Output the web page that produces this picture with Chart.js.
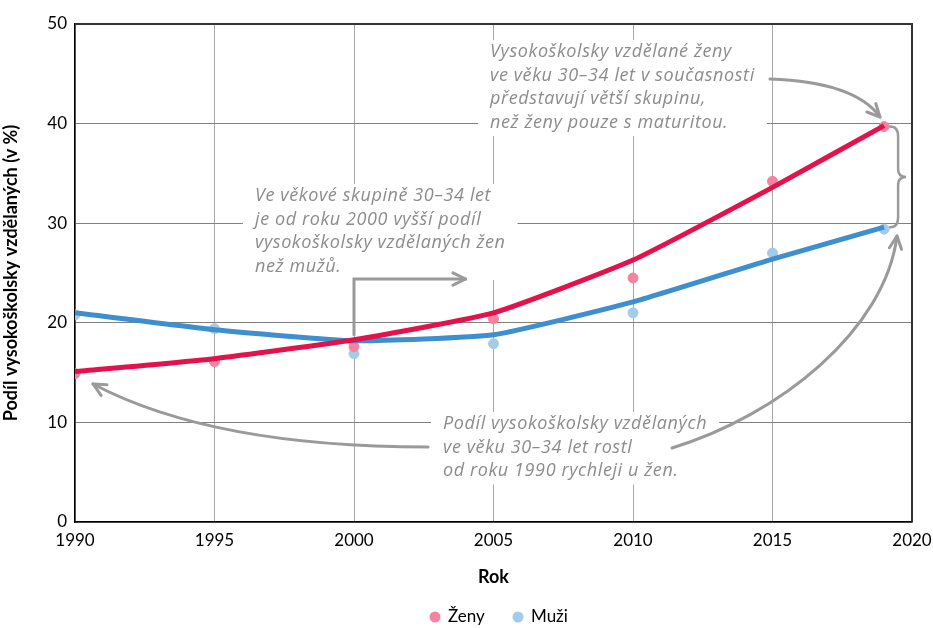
<!DOCTYPE html>
<html>
<head>
<meta charset="utf-8">
<script src="https://cdn.jsdelivr.net/npm/chart.js@4/dist/chart.umd.min.js"></script>
<style>
body{margin:0;background:#fff}
#wrap{width:933px;height:628px}
</style>
</head>
<body>
<div id="wrap"><canvas id="myChart" width="933" height="628"></canvas></div>
<script>
// data
let years=[1990,1995,2000,2005,2010,2015,2019]
let zeny=[14.9,16.1,17.6,20.4,24.5,34.2,39.7]
let muzi=[20.8,19.4,16.9,17.9,21.0,27.0,29.4]
let zenyTrend=[15.1,16.4,18.3,21.0,26.3,33.6,39.8]
let muziTrend=[21.0,19.3,18.2,18.8,22.1,26.4,29.6]
let xTicks=[1990,1995,2000,2005,2010,2015,2020]
let yTicks=[0,10,20,30,40,50]

function pts(arr){return years.map((y,i)=>({x:y,y:arr[i]}))}

let handFont='italic 18px "Open Sans"'
let grey='#8c8c8c'

function arrowHead(c,x,y,ang){
  c.beginPath()
  c.moveTo(x,y)
  c.lineTo(x-14*Math.cos(ang-0.45),y-14*Math.sin(ang-0.45))
  c.moveTo(x,y)
  c.lineTo(x-14*Math.cos(ang+0.45),y-14*Math.sin(ang+0.45))
  c.stroke()
}

let notes={
  id:'notes',
  beforeDatasetsDraw(chart){
    let c=chart.ctx
    let boxes=[
      {x:255,y:196,lines:['Ve věkové skupině 30–34 let','je od roku 2000 vyšší podíl','vysokoškolsky vzdělaných žen','než mužů.']},
      {x:490,y:52,lines:['Vysokoškolsky vzdělané ženy','ve věku 30–34 let v současnosti','představují větší skupinu,','než ženy pouze s maturitou.']},
      {x:443,y:424,lines:['Podíl vysokoškolsky vzdělaných','ve věku 30–34 let rostl','od roku 1990 rychleji u žen.']}
    ]
    c.save()
    c.font=handFont
    c.letterSpacing='0.6px'
    c.textBaseline='middle'
    boxes.forEach(b=>{
      let w=Math.max(...b.lines.map(l=>c.measureText(l).width))
      c.fillStyle='#fff'
      c.fillRect(b.x-12,b.y-12,w+24,b.lines.length*23.5+2)
      c.fillStyle=grey
      b.lines.forEach((l,i)=>c.fillText(l,b.x,b.y+i*23.5))
    })
    c.restore()
  },
  afterDatasetsDraw(chart){
    let c=chart.ctx, xs=chart.scales.x, ys=chart.scales.y
    let X=v=>xs.getPixelForValue(v), Y=v=>ys.getPixelForValue(v)
    c.save()
    c.strokeStyle='#9a9a9a'
    c.lineWidth=3
    c.lineCap='round'
    // top arrow to women 2019
    c.beginPath()
    c.moveTo(770,79)
    c.quadraticCurveTo(855,82,880,117)
    c.stroke()
    arrowHead(c,880,117,Math.atan2(117-100,880-864))
    // step arrow 2000
    c.beginPath()
    c.moveTo(X(2000),Y(18.8))
    c.lineTo(X(2000),Y(24.4))
    c.lineTo(X(2004),Y(24.4))
    c.stroke()
    arrowHead(c,X(2004),Y(24.4),0)
    // lower-left arrow to 1990
    c.beginPath()
    c.moveTo(428,447)
    c.bezierCurveTo(300,447,180,430,93,384)
    c.stroke()
    arrowHead(c,93,384,Math.atan2(384-395,93-113))
    // lower-right arrow up to men 2019
    c.beginPath()
    c.moveTo(672,448)
    c.bezierCurveTo(780,415,885,330,897,236)
    c.stroke()
    arrowHead(c,897,236,Math.atan2(236-252,897-895))
    // brace
    let bx=X(2019)+10, t=Y(39.7), b=Y(29.6), m=(t+b)/2
    c.lineWidth=2.5
    c.beginPath()
    c.moveTo(bx-4,t)
    c.quadraticCurveTo(bx+4,t,bx+4,t+10)
    c.lineTo(bx+4,m-8)
    c.quadraticCurveTo(bx+4,m,bx+12,m)
    c.quadraticCurveTo(bx+4,m,bx+4,m+8)
    c.lineTo(bx+4,b-10)
    c.quadraticCurveTo(bx+4,b,bx-4,b)
    c.stroke()
    c.restore()
  }
}

// legend drawn by hand so the spacing matches
let bottomLegend={
  id:'bottomLegend',
  afterDraw(chart){
    let c=chart.ctx
    let items=chart.data.datasets.filter(d=>d.label=='Ženy'||d.label=='Muži')
    let xs=[435,518]
    c.save()
    c.font='17px Lato'
    c.textBaseline='middle'
    items.forEach((d,i)=>{
      c.fillStyle=d.backgroundColor
      c.beginPath()
      c.arc(xs[i],617,5.5,0,Math.PI*2)
      c.fill()
      c.fillStyle='#000'
      c.fillText(d.label,xs[i]+13,617)
    })
    c.restore()
  }
}

let myChart=document.getElementById('myChart').getContext('2d')
let chart=new Chart(myChart,{
  type:'scatter',
  data:{
    datasets:[
      {label:'trendZ',type:'line',data:pts(zenyTrend),borderColor:'#e3124b',borderWidth:5,pointRadius:0,tension:0.15,order:1},
      {label:'trendM',type:'line',data:pts(muziTrend),borderColor:'#3e8fcd',borderWidth:5,pointRadius:0,tension:0.15,order:1},
      {label:'Ženy',data:pts(zeny),backgroundColor:'#f284a2',borderColor:'#f284a2',pointRadius:5,pointHoverRadius:5,order:2},
      {label:'Muži',data:pts(muzi),backgroundColor:'#a3cbea',borderColor:'#a3cbea',pointRadius:5,pointHoverRadius:5,order:2}
    ]
  },
  options:{
    responsive:false,
    animation:false,
    layout:{padding:{top:24,right:21,left:0,bottom:0}},
    plugins:{
      tooltip:{enabled:false},
      legend:{display:false}
    },
    scales:{
      x:{
        type:'linear',min:1990,max:2020,
        afterBuildTicks:s=>{s.ticks=xTicks.map(v=>({value:v}))},
        ticks:{color:'#000',font:{family:'Lato',size:17},padding:8,maxRotation:0,callback:v=>String(v)},
        grid:{color:'#a8a8a8',lineWidth:1,drawTicks:false},
        border:{color:'#000',width:1.5},
        title:{display:true,text:'Rok',color:'#000',font:{family:'Lato',size:18,weight:'bold'},padding:{top:14,bottom:40}},
        afterFit:s=>{s.height=106;s.paddingRight=0;s.paddingLeft=0}
      },
      y:{
        min:0,max:50,
        afterBuildTicks:s=>{s.ticks=yTicks.map(v=>({value:v}))},
        ticks:{color:'#000',font:{family:'Lato',size:17},padding:8},
        grid:{color:'#808080',lineWidth:1,drawTicks:false},
        border:{color:'#000',width:1.5},
        title:{display:true,text:'Podíl vysokoškolsky vzdělaných (v %)',color:'#000',font:{family:'Lato',size:18,weight:'bold'},padding:{top:0,bottom:10}},
        afterFit:s=>{s.width=75}
      }
    }
  },
  plugins:[notes,bottomLegend,{
    id:'frame',
    afterDraw(chart){
      let c=chart.ctx,a=chart.chartArea
      c.save()
      c.strokeStyle='#333'
      c.lineWidth=2
      c.beginPath()
      c.moveTo(a.left,a.top);c.lineTo(a.right,a.top);c.lineTo(a.right,a.bottom)
      c.stroke()
      c.restore()
    }
  }]
})
</script>
</body>
</html>
